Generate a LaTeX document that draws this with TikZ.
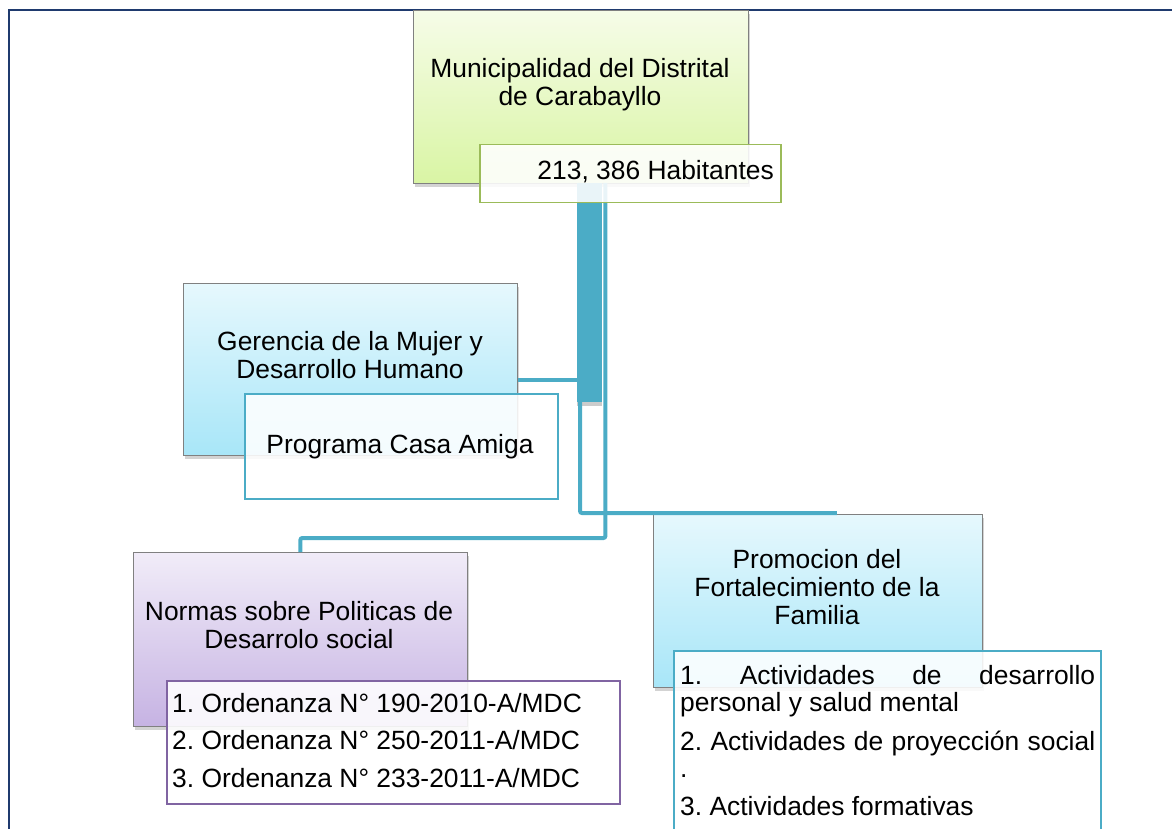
\documentclass[tikz,border=0pt]{standalone}
\usepackage{fontspec}
\setmainfont{Liberation Sans}
\usetikzlibrary{shadows}
\frenchspacing
\definecolor{navy}{HTML}{1F3A6E}
\definecolor{conn}{HTML}{4BACC6}
\definecolor{grtop}{HTML}{F6FCE8}
\definecolor{grbot}{HTML}{D9F5A4}
\definecolor{bltop}{HTML}{E6F8FD}
\definecolor{blbot}{HTML}{A8E6F8}
\definecolor{putop}{HTML}{F1ECF8}
\definecolor{pubot}{HTML}{C6B3E3}
\definecolor{grline}{HTML}{9BBB59}
\definecolor{puline}{HTML}{8064A2}
\tikzset{
  mainbox/.style={draw=black!50, line width=0.8pt, inner sep=0pt, anchor=north west,
    drop shadow={opacity=0.35, shadow xshift=2pt, shadow yshift=-4pt}},
  childbox/.style={line width=1.5pt, fill=white, fill opacity=0.88, inner sep=0pt, anchor=north west},
  conline/.style={conn, line width=4pt, rounded corners=2pt},
  txt/.style={inner sep=0pt, align=center, font=\fontsize{26.4pt}{28pt}\selectfont\frenchspacing},
  ltxt/.style={inner sep=0pt, align=left, font=\fontsize{26.4pt}{37.5pt}\selectfont\frenchspacing}
}
\begin{document}
\begin{tikzpicture}[x=1pt,y=-1pt]
\useasboundingbox (0,0) rectangle (1172,829);
% frame
\draw[navy, line width=2pt] (8.5,840) -- (8.5,10) -- (1180,10);
% main boxes
\node[mainbox, top color=grtop, bottom color=grbot, minimum width=335pt, minimum height=173pt] (muni) at (413,10) {};
\node[mainbox, top color=bltop, bottom color=blbot, minimum width=334pt, minimum height=172pt] (ger) at (183,283) {};
\node[mainbox, top color=putop, bottom color=pubot, minimum width=334pt, minimum height=174pt] (norm) at (133,552) {};
\node[mainbox, top color=bltop, bottom color=blbot, minimum width=329pt, minimum height=173pt] (prom) at (653,514) {};
% connectors
\node[fill=conn, inner sep=0pt, anchor=north west, minimum width=25pt, minimum height=219pt,
  drop shadow={opacity=0.4, shadow xshift=0pt, shadow yshift=-4pt}] (bar) at (577,183) {};
\draw[conline] ([xshift=3pt]bar.north west) |- ([xshift=19pt,yshift=1pt]prom.north);
\draw[conline] ([xshift=3pt]bar.north east) |- ([yshift=14pt]norm.north) -- (norm.north);
\draw[conline] ([yshift=-11pt]ger.east) -- ([yshift=-11pt]ger.east -| bar.west);
% child boxes
\node[childbox, draw=grline, minimum width=301pt, minimum height=58pt] (hab) at (479,144) {};
\node[childbox, draw=conn, minimum width=313pt, minimum height=105pt] (prog) at (244,393) {};
\node[childbox, draw=puline, minimum width=453pt, minimum height=123pt] (ord) at (166,680) {};
\node[childbox, draw=conn, minimum width=427pt, minimum height=200pt] (act) at (673,650) {};
% texts (base anchor = baseline of the last line)
\node[txt, anchor=base] (mutx) at (580,106) {Municipalidad del Distrital\\de Carabayllo};
\node[txt, anchor=base east] (habtx) at (774,180) {213, 386 Habitantes};
\node[txt, anchor=base] (gertx) at (350,378) {Gerencia de la Mujer y\\Desarrollo Humano};
\node[txt, anchor=base] (progtx) at (400,453) {Programa Casa Amiga};
\node[txt, anchor=base] (normtx) at (299,648) {Normas sobre Politicas de\\Desarrolo social};
\node[txt, anchor=base] (promtx) at (817,624) {Promocion del\\Fortalecimiento de la\\Familia};
\node[ltxt, anchor=base west] (ordtx) at (172,787) {1. Ordenanza N° 190-2010-A/MDC\\2. Ordenanza N° 250-2011-A/MDC\\3. Ordenanza N° 233-2011-A/MDC};
\node[inner sep=0pt, align=left, anchor=base west, font=\fontsize{26.4pt}{27.5pt}\selectfont\frenchspacing] (acttx) at (680,815)
  {\makebox[415pt][s]{1. Actividades de desarrollo}\\personal y salud mental\\[11pt]\makebox[415pt][s]{2. Actividades de proyección social}\\.\\[10pt]3. Actividades formativas};
\end{tikzpicture}
\end{document}
